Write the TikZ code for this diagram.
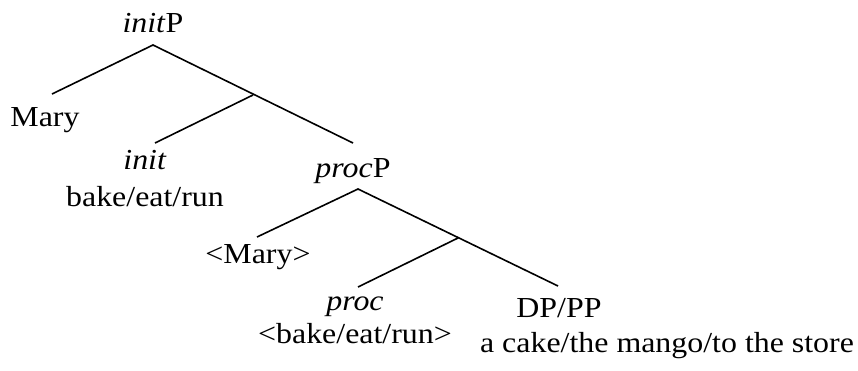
\documentclass[tikz,border=0pt]{standalone}
\usepackage{fontspec}
\setmainfont{Liberation Serif}
\newcommand{\wtxt}[1]{\scalebox{1.1}[1]{#1}}
\begin{document}
\begin{tikzpicture}[x=1pt,y=-1pt,
  lbl/.style={anchor=base,inner sep=0pt,font=\fontsize{29}{34}\selectfont},
  branch/.style={line width=1.6pt}]
\useasboundingbox (0,0) rectangle (858,370);
% labels
\node[lbl] (initP) at (153,32) {\wtxt{\textit{init}P}};
\node[lbl] (mary) at (45,126) {\wtxt{Mary}};
\node[lbl] (init) at (145,169) {\wtxt{\textit{init}}};
\node[lbl] (initV) at (145,206) {\wtxt{bake/eat/run}};
\node[lbl] (procP) at (353,177) {\wtxt{\textit{proc}P}};
\node[lbl] (tmary) at (258,263) {\wtxt{<Mary>}};
\node[lbl] (proc) at (355,310) {\wtxt{\textit{proc}}};
\node[lbl] (procV) at (355,343) {\wtxt{<bake/eat/run>}};
\node[lbl] (dp) at (559,317) {\wtxt{DP/PP}};
\node[lbl] (dpV) at (667,352) {\wtxt{a cake/the mango/to the store}};
% branch points
\coordinate (a1) at (153,45);
\coordinate (m1) at (52,94);
\coordinate (b1) at (253,95);
\coordinate (i1) at (155,143);
\coordinate (p1) at (353,143);
\coordinate (a2) at (358,189);
\coordinate (m2) at (257,237);
\coordinate (b2) at (458,238);
\coordinate (i2) at (358,287);
\coordinate (d2) at (558,286);
% branches
\draw[branch] (m1) -- (a1) -- (p1);
\draw[branch] (b1) -- (i1);
\draw[branch] (m2) -- (a2) -- (d2);
\draw[branch] (b2) -- (i2);
\end{tikzpicture}
\end{document}
